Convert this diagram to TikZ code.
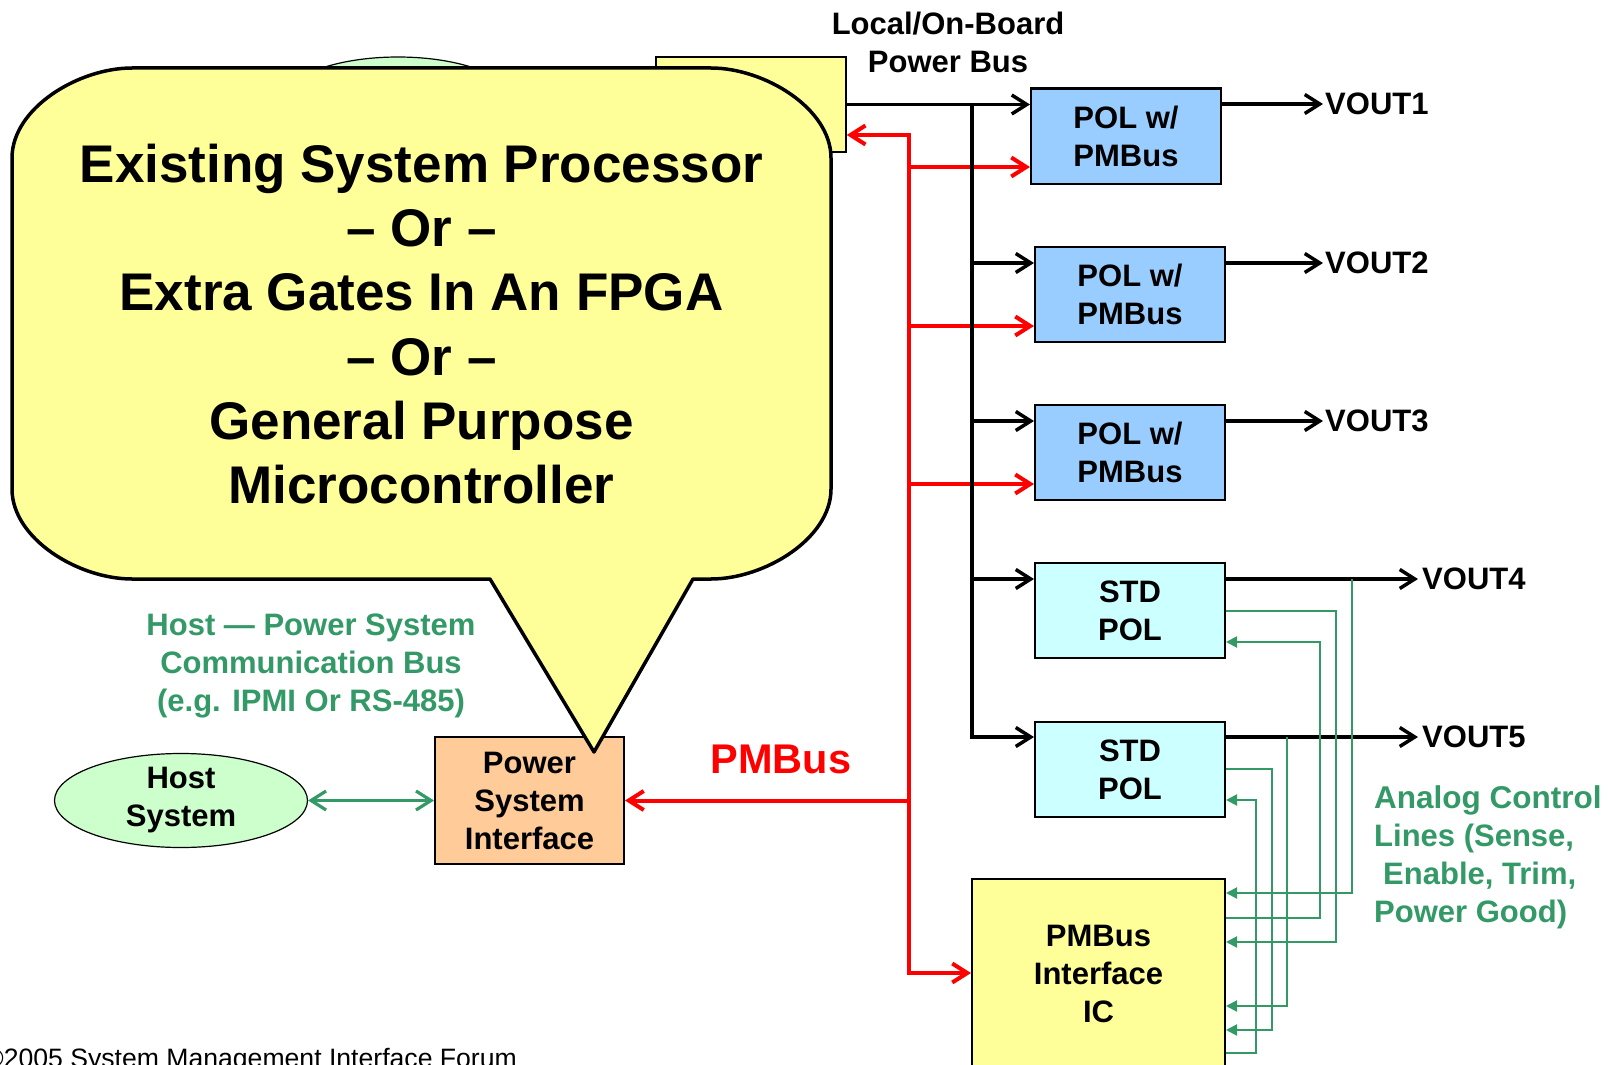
\documentclass[tikz,border=0pt]{standalone}
\usepackage{fontspec}
\setmainfont{Liberation Sans}
\usetikzlibrary{arrows.meta,shapes.geometric}
\definecolor{polblue}{HTML}{99CCFF}
\definecolor{stdcyan}{HTML}{CCFFFF}
\definecolor{ylw}{HTML}{FFFF99}
\definecolor{orng}{HTML}{FFCC99}
\definecolor{lgreen}{HTML}{CCFFCC}
\definecolor{dgreen}{HTML}{339966}
\tikzset{
  obarb/.tip={Straight Barb[length=15pt,width=19pt]},
  gtri/.tip={Triangle[length=11pt,width=11pt]},
  lbl/.style={font=\bfseries\fontsize{31}{38}\selectfont, align=center, inner sep=0pt},
  blkbox/.style={draw, line width=2pt, lbl, minimum width=190pt, minimum height=95pt},
  blkl/.style={draw=black, line width=3.5pt},
  redl/.style={draw=red, line width=4pt},
  gthin/.style={draw=dgreen, line width=2pt},
  gthick/.style={draw=dgreen, line width=3.2pt},
}
\begin{document}
\begin{tikzpicture}[x=1pt,y=-1pt]
\useasboundingbox (0,0) rectangle (1612,1065);
\clip (0,0) rectangle (1612,1065);

% items partly hidden behind the callout
\node[ellipse, draw, line width=1.2pt, fill=lgreen, minimum width=232pt, minimum height=90pt, inner sep=0pt] (oldhost) at (398,102) {};
\node[draw, line width=1.5pt, fill=ylw, minimum width=190pt, minimum height=95pt, inner sep=0pt] (proc) at (751,104.5) {};

% boxes
\node[blkbox, fill=polblue] (pol1) at (1126,136) {POL w/\\PMBus};
\node[blkbox, fill=polblue] (pol2) at (1130,294.5) {POL w/\\PMBus};
\node[blkbox, fill=polblue] (pol3) at (1130,452.5) {POL w/\\PMBus};
\node[blkbox, fill=stdcyan] (std1) at (1130,610.5) {STD\\POL};
\node[blkbox, fill=stdcyan] (std2) at (1130,769.5) {STD\\POL};
\node[blkbox, fill=ylw, minimum width=253pt, minimum height=190pt] (ic) at (1098.5,974) {PMBus\\Interface\\IC};
\node[blkbox, fill=orng, minimum width=189pt, minimum height=127pt] (psi) at (529.5,800.5) {Power\\System\\Interface};
\node[ellipse, draw, line width=1.2pt, fill=lgreen, minimum width=253pt, minimum height=94pt, inner sep=0pt] (host) at (181,800.5) {};
\node[lbl] (hostlbl) at (host.center) {Host\\System};

% texts
\node[lbl] (title) at (948,42) {Local/On-Board\\Power Bus};
\node[lbl, anchor=west] (v1) at (1325,104) {VOUT1};
\node[lbl, anchor=west] (v2) at (1325,263) {VOUT2};
\node[lbl, anchor=west] (v3) at (1325,421) {VOUT3};
\node[lbl, anchor=west] (v4) at (1422,579) {VOUT4};
\node[lbl, anchor=west] (v5) at (1422,737) {VOUT5};
\node[font=\bfseries\fontsize{41.5}{48}\selectfont, text=red, inner sep=0pt] (pmb) at (781,759) {PMBus};
\node[lbl, text=dgreen] (hbus) at (311,666) {Host — Power System\\Communication Bus\\(e.g. IPMI Or RS-485)};
\node[lbl, text=dgreen, align=left, anchor=west] (analog) at (1374,857) {\fontsize{31.5}{38}\selectfont Analog Control\\Lines (Sense,\\\hspace{9pt}Enable, Trim,\\Power Good)};
\node[anchor=base west, inner sep=0pt, font=\fontsize{26.6}{30}\selectfont] (foot) at (-16,1067) {©2005 System Management Interface Forum};

% coordinates
\coordinate (bj1) at (972,104.5);
\coordinate (b2) at (972,263);
\coordinate (b3) at (972,421);
\coordinate (b4) at (972,579);
\coordinate (b5) at (972,737);
\coordinate (r0) at (909,135);
\coordinate (r1) at (909,167);
\coordinate (r2) at (909,326);
\coordinate (r3) at (909,484);
\coordinate (rp) at (909,800.5);
\coordinate (r4) at (909,973);

% red PMBus lines
\draw[redl, {obarb}-{obarb}] (r0 -| proc.east) -- (r0) -- (r4) -- (r4 -| ic.west);
\draw[redl, -{obarb}] (r1) -- (r1 -| pol1.west);
\draw[redl, -{obarb}] (r2) -- (r2 -| pol2.west);
\draw[redl, -{obarb}] (r3) -- (r3 -| pol3.west);
\draw[redl, -{obarb}] (rp) -- (psi.east);

% black power bus
\draw[blkl, -{obarb}] (proc.east) -- (proc.east -| pol1.west);
\draw[blkl, -{obarb}] (bj1) -- (b5) -- (b5 -| std2.west);
\draw[blkl, -{obarb}] (b2) -- (b2 -| pol2.west);
\draw[blkl, -{obarb}] (b3) -- (b3 -| pol3.west);
\draw[blkl, -{obarb}] (b4) -- (b4 -| std1.west);

% outputs
\draw[blkl, -{obarb}, shorten >=2pt] (pol1.east |- v1.west) -- (v1.west);
\draw[blkl, -{obarb}, shorten >=2pt] (pol2.east |- v2.west) -- (v2.west);
\draw[blkl, -{obarb}, shorten >=2pt] (pol3.east |- v3.west) -- (v3.west);
\draw[blkl, -{obarb}, shorten >=4pt] (std1.east |- v4.west) -- (v4.west);
\draw[blkl, -{obarb}, shorten >=4pt] (std2.east |- v5.west) -- (v5.west);

% host link
\draw[gthick, {obarb}-{obarb}] (host.east) -- (psi.west);

% analog control lines
\coordinate (g1a) at (1352,579);  \coordinate (g1b) at (1352,893);
\coordinate (g2a) at (1336,611);  \coordinate (g2b) at (1336,942);
\coordinate (g3a) at (1320,918);  \coordinate (g3b) at (1320,642);
\coordinate (g4a) at (1287,737);  \coordinate (g4b) at (1287,1006);
\coordinate (g5a) at (1272,769);  \coordinate (g5b) at (1272,1030);
\coordinate (g6a) at (1256,1053); \coordinate (g6b) at (1256,800);
\draw[gthin, -{gtri}] (g1a) -- (g1b) -- (g1b -| ic.east);
\draw[gthin, -{gtri}] (g2a -| std1.east) -- (g2a) -- (g2b) -- (g2b -| ic.east);
\draw[gthin, -{gtri}] (g3a -| ic.east) -- (g3a) -- (g3b) -- (g3b -| std1.east);
\draw[gthin, -{gtri}] (g4a) -- (g4b) -- (g4b -| ic.east);
\draw[gthin, -{gtri}] (g5a -| std2.east) -- (g5a) -- (g5b) -- (g5b -| ic.east);
\draw[gthin, -{gtri}] (g6a -| ic.east) -- (g6a) -- (g6b) -- (g6b -| std2.east);

% callout
\filldraw[fill=ylw, draw=black, line width=3.5pt, line join=round]
  (132,68) -- (711,68)
  .. controls (764.3,68) and (831,108.3) .. (831,158)
  -- (831,489)
  .. controls (831,538.7) and (764.3,579) .. (711,579)
  -- (693,579) -- (594,752) -- (490,579)
  -- (132,579)
  .. controls (78.3,579) and (12,538.7) .. (12,489)
  -- (12,158)
  .. controls (12,108.3) and (78.3,68) .. (132,68) -- cycle;
\node[lbl, font=\bfseries\fontsize{53}{64.2}\selectfont] (ctext) at (421.5,324) {Existing System Processor\\– Or –\\Extra Gates In An FPGA\\– Or –\\General Purpose\\Microcontroller};
\end{tikzpicture}
\end{document}
